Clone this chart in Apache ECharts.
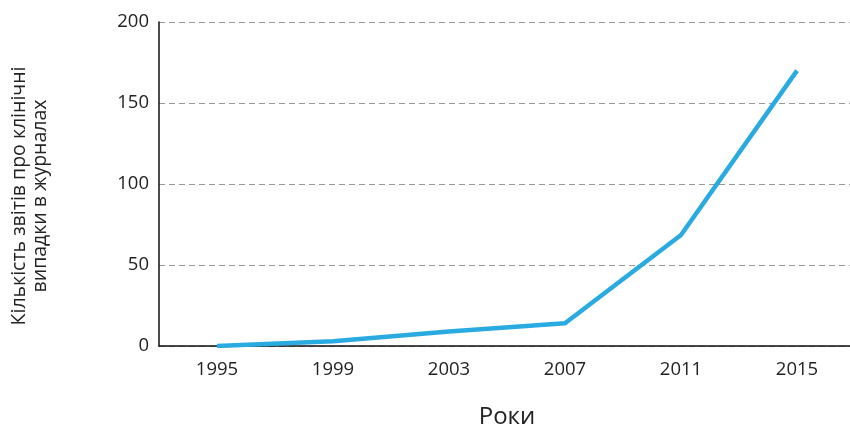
<!DOCTYPE html>
<html>
<head>
<meta charset="utf-8">
<script src="https://cdn.jsdelivr.net/npm/echarts@6/dist/echarts.min.js"></script>
<style>
    html, body { margin: 0; padding: 0; background: #fff; }
    #chart { width: 850px; height: 428px; }
</style>
</head>
<body>
<div id="chart"></div>
<script>
    // роки та кількість звітів
    const years = ['1995', '1999', '2003', '2007', '2011', '2015'];
    const reports = [0, 3, 9, 14, 68.5, 170];
    const yTicks = [0, 50, 100, 150, 200];

    const chart = echarts.init(document.getElementById('chart'));
    chart.setOption({
        animation: false,
        textStyle: { fontFamily: 'Open Sans' },
        grid: {
            left: 159,
            top: 22,
            width: 696,
            height: 324,
            outerBoundsMode: 'none',
            containLabel: false
        },
        xAxis: {
            type: 'category',
            data: years,
            boundaryGap: true,
            name: 'Роки',
            nameLocation: 'middle',
            nameGap: 59,
            nameTextStyle: { fontSize: 24, color: '#222' },
            axisLine: { lineStyle: { color: '#111', width: 1.5 } },
            axisTick: { show: false },
            axisLabel: { fontSize: 18.5, color: '#222', margin: 14 }
        },
        yAxis: {
            type: 'value',
            min: yTicks[0],
            max: yTicks[yTicks.length - 1],
            interval: 50,
            name: 'Кількість звітів про клінічні\nвипадки в журналах',
            nameLocation: 'middle',
            nameGap: 108,
            nameRotate: 90,
            nameTextStyle: {
                fontSize: 19.5,
                color: '#222',
                lineHeight: 21,
                padding: [0, 24, 0, 0]
            },
            axisLine: { show: true, lineStyle: { color: '#111', width: 1.5 } },
            axisTick: { show: false },
            axisLabel: { fontSize: 18.5, color: '#222', margin: 10 },
            splitLine: { lineStyle: { color: '#999', type: [6, 4], width: 1 } }
        },
        series: [{
            type: 'line',
            data: reports,
            symbol: 'none',
            lineStyle: { color: '#29abe2', width: 4.5 },
            silent: true
        }]
    });
</script>
</body>
</html>
